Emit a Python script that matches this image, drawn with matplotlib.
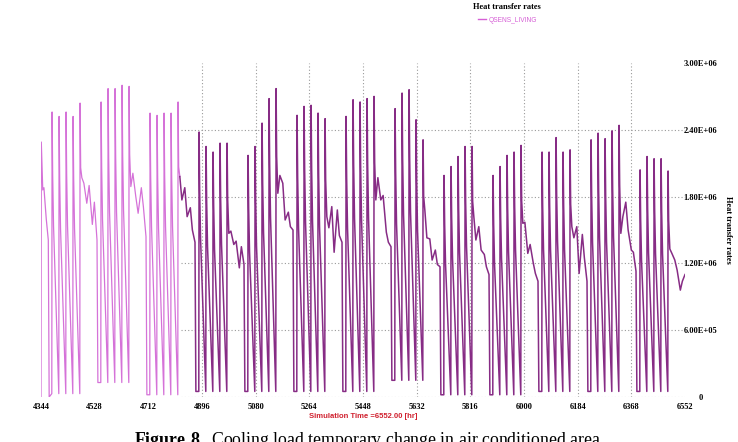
import numpy as np
import matplotlib.pyplot as plt
from matplotlib.lines import Line2D

# x range (simulation hours)
t_start = 4344
t_end = 6552
xticks = [4344, 4528, 4712, 4896, 5080, 5264, 5448, 5632, 5816, 6000, 6184, 6368, 6552]
yticks = [0, 6e5, 1.2e6, 1.8e6, 2.4e6, 3e6]
ytick_labels = ['0', '6.00E+05', '1.20E+06', '1.80E+06', '2.40E+06', '3.00E+06']

# first day (sunday), hours from start and value in 1e6
day0_hours = [0, 1, 6, 10, 18, 25, 28]
day0_vals = [0.0, 2.29, 1.86, 1.88, 1.60, 1.41, 0.0]

# weekday peaks (Mon..Fri) for each of 13 weeks, in 1e6
peaks = [
    [2.56, 2.52, 2.56, 2.52, 2.64],
    [2.65, 2.77, 2.77, 2.80, 2.79],
    [2.55, 2.53, 2.55, 2.55, 2.65],
    [2.38, 2.25, 2.20, 2.28, 2.28],
    [2.17, 2.25, 2.46, 2.68, 2.77],
    [2.53, 2.61, 2.62, 2.55, 2.50],
    [2.52, 2.67, 2.65, 2.68, 2.70],
    [2.59, 2.73, 2.76, 2.49, 2.31],
    [1.99, 2.07, 2.16, 2.25, 2.25],
    [1.99, 2.07, 2.17, 2.20, 2.26],
    [2.20, 2.20, 2.33, 2.20, 2.22],
    [2.31, 2.37, 2.32, 2.39, 2.44],
    [2.04, 2.16, 2.14, 2.14, 2.03],
]
# night minimum between weekday spikes, per week
week_lows = [0.03, 0.13, 0.02, 0.05, 0.05, 0.05, 0.05, 0.15, 0.02, 0.02, 0.05, 0.05, 0.05]
# decay after the spike (fraction of peak) at +2h and +5h
spike_shape = [0.78, 0.60]

# weekend curve, hours after friday 0h, values in 1e6
we_hours = [20, 27, 37, 45, 56, 63, 72]
weekends = [
    [1.97, 1.92, 1.74, 1.90, 1.55, 1.75, 1.41],
    [1.89, 2.01, 1.80, 1.65, 1.88, 1.71, 1.44],
    [1.98, 1.77, 1.88, 1.62, 1.70, 1.50, 1.39],
    [1.47, 1.49, 1.37, 1.40, 1.16, 1.35, 1.19],
    [1.83, 1.99, 1.92, 1.59, 1.66, 1.53, 1.50],
    [1.62, 1.52, 1.71, 1.30, 1.68, 1.45, 1.39],
    [1.77, 1.97, 1.77, 1.81, 1.48, 1.39, 1.35],
    [1.68, 1.43, 1.42, 1.23, 1.32, 1.19, 1.17],
    [1.62, 1.41, 1.53, 1.32, 1.28, 1.17, 1.10],
    [1.56, 1.57, 1.29, 1.37, 1.20, 1.11, 1.04],
    [1.53, 1.43, 1.53, 1.11, 1.46, 1.25, 1.04],
    [1.47, 1.62, 1.75, 1.50, 1.32, 1.30, 1.13],
    [1.33, 1.29, 1.23, 1.14, 0.96, 1.04, 1.10],
]

# build the series
hrs = []
vals = []
for h, v in zip(day0_hours, day0_vals):
    hrs.append(t_start + h)
    vals.append(v)
for w in range(len(peaks)):
    mon = t_start + (1 + 7 * w) * 24
    low = week_lows[w]
    for k in range(5):
        t0 = mon + 24 * k
        p = peaks[w][k]
        hrs += [t0 + 13, t0 + 14, t0 + 16]
        vals += [low, p, p * spike_shape[0]]
        if k < 4:
            hrs.append(t0 + 19)
            vals.append(p * spike_shape[1])
    fri = mon + 96
    for h, v in zip(we_hours, weekends[w]):
        hrs.append(fri + h)
        vals.append(v)
    if fri + 75 < t_end:
        hrs.append(fri + 75)
        vals.append(week_lows[min(w + 1, len(week_lows) - 1)])

hrs = np.array(hrs)
vals = np.array(vals) * 1e6
split = 4820
light = hrs <= split
dark = hrs >= split

plt.rcParams['mathtext.fontset'] = 'custom'
plt.rcParams['mathtext.rm'] = 'Liberation Serif'
plt.rcParams['mathtext.bf'] = 'Liberation Serif:bold'

fig = plt.figure(figsize=(7.38, 4.42), dpi=100)
ax = fig.add_axes([41 / 738, 45 / 442, 644 / 738, 334 / 442])

# dotted grid (only in the right part, as in the source)
grid_kw = dict(colors='#9a9a9a', linestyles=(0, (1, 2)), linewidth=0.8, zorder=1)
ax.hlines([0, 6e5, 1.2e6, 1.8e6, 2.4e6], 4824, t_end, **grid_kw)
ax.vlines([t for t in xticks if 4896 <= t < t_end], 0, 3e6, **grid_kw)

ax.plot(hrs[light], vals[light], color='#d572d8', lw=0.9, zorder=2)
ax.plot(hrs[dark], vals[dark], color='#872c85', lw=1.1, zorder=2)

ax.set_xlim(t_start, t_end)
ax.set_ylim(0, 3e6)
for s in ax.spines.values():
    s.set_visible(False)
ax.set_xticks(xticks)
ax.set_xticklabels([str(t) for t in xticks], fontfamily='Liberation Serif',
                   fontweight='bold', fontsize=6)
ax.yaxis.tick_right()
ax.set_yticks(yticks)
ax.set_yticklabels(ytick_labels, fontfamily='Liberation Serif',
                   fontweight='bold', fontsize=6, ha='center')
ax.tick_params(axis='x', length=0, pad=4)
ax.tick_params(axis='y', length=0, pad=11)

fig.text(728 / 738, 1 - 230 / 442, 'Heat transfer rates', rotation=-90,
         ha='center', va='center', fontfamily='Liberation Serif',
         fontweight='bold', fontsize=6)
fig.text(507 / 738, 1 - 7 / 442, 'Heat transfer rates', ha='center', va='center',
         fontfamily='Liberation Serif', fontweight='bold', fontsize=6)
handle = Line2D([], [], color='#d65fd6', lw=1.0)
fig.legend([handle], ['QSENS_LIVING'], loc='center', bbox_to_anchor=(508 / 738, 1 - 20 / 442),
           frameon=False, handlelength=1.2, handletextpad=0.4,
           prop={'family': 'Liberation Sans', 'size': 4.8}, labelcolor='#d65fd6')
fig.text(363 / 738, 1 - 417 / 442, 'Simulation Time =6552.00 [hr]', ha='center', va='center',
         color='#d0202e', fontfamily='Liberation Sans', fontweight='bold', fontsize=5.5)
fig.text(369 / 738, -3 / 442, r'$\mathbf{Figure\ 8.}$ Cooling load temporary change in air conditioned area.',
         ha='center', va='baseline', fontfamily='Liberation Serif', fontsize=12.8)

fig.savefig('out.png', dpi=100)
